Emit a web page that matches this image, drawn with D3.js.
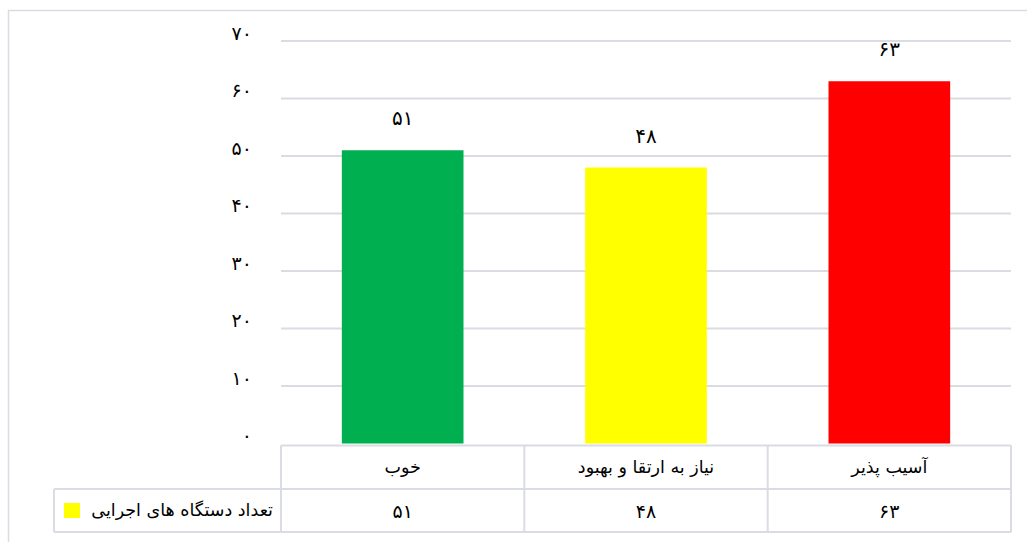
<!DOCTYPE html>
<html lang="fa">
<head>
<meta charset="utf-8">
<script src="https://cdn.jsdelivr.net/npm/d3@7/dist/d3.min.js"></script>
<style>
  html, body { margin: 0; padding: 0; background: #fff; }
  svg { display: block; }
  text { font-family: "DejaVu Sans", "Noto Sans", sans-serif; fill: #000; }
</style>
</head>
<body>
<svg id="chart" width="1027" height="542"></svg>
<script>
// Chart data
const categories = ["خوب", "نیاز به ارتقا و بهبود", "آسیب پذیر"];
const values = [51, 48, 63];
const barColors = ["#00b050", "#ffff00", "#ff0000"];
const seriesName = "تعداد دستگاه های اجرایی";
const legendColor = "#ffff00";
const yTicks = [0, 10, 20, 30, 40, 50, 60, 70];

const toFa = n => String(n).replace(/\d/g, d => "۰۱۲۳۴۵۶۷۸۹"[+d]);

const svg = d3.select("#chart");
const gridColor = "#d9dce3";

// Outer frame of the chart area
svg.append("rect")
  .attr("x", 8.5).attr("y", 10.5)
  .attr("width", 1040).attr("height", 560)
  .attr("fill", "none").attr("stroke", gridColor).attr("stroke-width", 1.5);

const plot = { left: 281, right: 1011, top: 41, bottom: 443.5 };

const x = d3.scaleBand()
  .domain(categories)
  .range([plot.left, plot.right])
  .paddingInner(0.5).paddingOuter(0.25);

const y = d3.scaleLinear()
  .domain([0, 70])
  .range([plot.bottom, plot.top]);

// Gridlines
svg.append("g")
  .selectAll("line")
  .data(yTicks.filter(t => t > 0))
  .join("line")
  .attr("x1", plot.left).attr("x2", plot.right)
  .attr("y1", d => y(d)).attr("y2", d => y(d))
  .attr("stroke", gridColor).attr("stroke-width", 2);

// Y axis labels
const yAxis = d3.axisLeft(y)
  .tickValues(yTicks)
  .tickFormat(toFa)
  .tickSize(0)
  .tickPadding(0);
const yg = svg.append("g")
  .attr("transform", `translate(252,0)`)
  .call(yAxis);
yg.select(".domain").remove();
yg.selectAll("text")
  .attr("font-size", 19)
  .attr("font-family", "DejaVu Sans, sans-serif")
  .attr("dy", "-0.1em");

// Bars
svg.append("g")
  .selectAll("rect")
  .data(values)
  .join("rect")
  .attr("x", (d, i) => x(categories[i]))
  .attr("width", x.bandwidth())
  .attr("y", d => y(d))
  .attr("height", d => y(0) - y(d))
  .attr("fill", (d, i) => barColors[i]);

// Value labels
svg.append("g")
  .selectAll("text")
  .data(values)
  .join("text")
  .attr("x", (d, i) => x(categories[i]) + x.bandwidth() / 2)
  .attr("y", d => y(d) - 25)
  .attr("text-anchor", "middle")
  .attr("font-size", 20)
  .text(d => toFa(d));

// Data table under the plot
const step = x.step();
const colX = categories.map((c, i) => plot.left + i * step);
const tableTop = 445.5, rowMid = 489, tableBottom = 532;
const table = svg.append("g")
  .attr("stroke", gridColor).attr("stroke-width", 2).attr("fill", "none");

// Horizontal rules
table.append("line").attr("x1", plot.left).attr("x2", plot.right)
  .attr("y1", tableTop).attr("y2", tableTop);
table.append("line").attr("x1", 54).attr("x2", plot.right)
  .attr("y1", rowMid).attr("y2", rowMid);
table.append("line").attr("x1", 54).attr("x2", plot.right)
  .attr("y1", tableBottom).attr("y2", tableBottom);
// Vertical rules
table.selectAll("line.col")
  .data(colX.concat([plot.right]))
  .join("line")
  .attr("class", "col")
  .attr("x1", d => d).attr("x2", d => d)
  .attr("y1", tableTop).attr("y2", tableBottom);
table.append("line").attr("x1", 54).attr("x2", 54)
  .attr("y1", rowMid).attr("y2", tableBottom);

// Category row
svg.append("g")
  .selectAll("text")
  .data(categories)
  .join("text")
  .attr("x", (d, i) => colX[i] + step / 2)
  .attr("y", (tableTop + rowMid) / 2 + 6)
  .attr("text-anchor", "middle")
  .attr("font-size", 17.5)
  .text(d => d);

// Value row
svg.append("g")
  .selectAll("text")
  .data(values)
  .join("text")
  .attr("x", (d, i) => colX[i] + step / 2)
  .attr("y", (rowMid + tableBottom) / 2 + 7)
  .attr("text-anchor", "middle")
  .attr("font-size", 19)
  .text(d => toFa(d));

// Series legend cell
svg.append("rect")
  .attr("x", 64).attr("y", 503)
  .attr("width", 16).attr("height", 15)
  .attr("fill", legendColor);
svg.append("text")
  .attr("x", 273).attr("y", 516)
  .attr("text-anchor", "end")
  .attr("font-size", 17.5)
  .text(seriesName);
</script>
</body>
</html>
